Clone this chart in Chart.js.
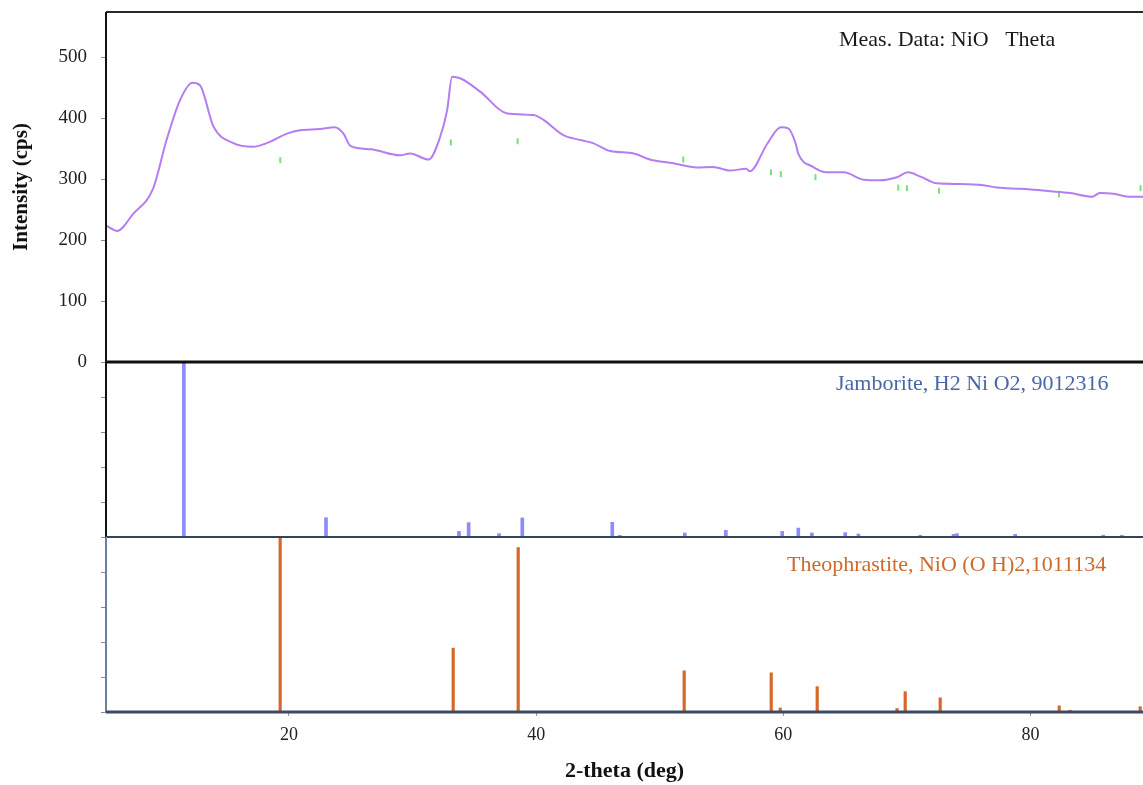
<!DOCTYPE html>
<html lang="en">
<head>
<meta charset="UTF-8">
<title>XRD - NiO</title>
<script src="https://cdn.jsdelivr.net/npm/chart.js@4.4.0/dist/chart.umd.min.js"></script>
<style>
  html, body { margin: 0; padding: 0; background: #fff; overflow: hidden; }
  canvas { display: block; }
</style>
</head>
<body>
<canvas id="xrd" width="1143" height="785"></canvas>
<script>
// measured pattern, 2-theta (deg) / intensity (cps)
const measTheta = [5.2, 6.1, 7.4, 9.0, 10.1, 11.2, 12.2, 12.8, 13.9, 15.5, 17.1, 18.2, 19.9, 20.9, 22.5, 23.7, 24.4, 25.0, 26.6, 29.0,
  29.8, 31.3, 32.2, 32.8, 33.2, 33.9, 35.5, 37.6, 39.8, 40.6, 42.2, 43.6, 44.6, 46.0, 47.9, 49.2, 51.1, 53.0, 54.3, 55.7,
  57.0, 57.3, 58.7, 59.8, 60.4, 61.0, 61.2, 62.4, 63.5, 64.9, 66.5, 67.8, 69.2, 70.1, 71.1, 72.4, 74.3, 76.2, 77.3, 79.2,
  81.6, 83.2, 85.0, 85.6, 86.7, 88.1, 89.1];
const measCps = [224, 215, 243, 284, 364, 430, 458, 454, 386, 359, 353, 359, 375, 380, 382, 385, 375, 354, 349, 339,
  342, 332, 367, 413, 468, 465, 443, 408, 405, 397, 372, 364, 359, 346, 342, 332, 326, 319, 320, 314,
  317, 313, 358, 385, 383, 358, 342, 320, 311, 311, 299, 298, 303, 311, 304, 293, 292, 290, 286, 284,
  280, 277, 271, 277, 276, 271, 271];

// peak marks on the measured curve
const peakTheta = [19.3, 33.1, 38.5, 51.9, 59.0, 59.8, 62.6, 69.3, 70.0, 72.6, 82.3, 88.9];
const peakCps = [331, 360, 362, 332, 311, 308, 303, 286, 285, 281, 275, 285];

// Jamborite reference lines (relative intensity %)
const jamTheta = [11.5, 23.0, 33.76, 34.54, 37.0, 38.88, 46.16, 46.77, 52.03, 55.35, 59.91, 61.21, 62.31, 65.01, 66.08, 71.08, 73.77, 74.05, 78.76, 85.88, 87.39];
const jamInt = [100, 11, 3.2, 8.2, 1.9, 10.9, 8.4, 1, 2.3, 3.8, 3.2, 5.1, 2.3, 2.5, 1.7, 1, 1.5, 1.9, 1.5, 1, 1];

// Theophrastite reference lines (relative intensity %)
const theoTheta = [19.29, 33.29, 38.55, 51.98, 59.02, 59.75, 62.74, 69.2, 69.86, 72.69, 82.32, 83.2, 88.87];
const theoInt = [100, 36.5, 94, 23.5, 22.4, 2.3, 14.5, 2, 11.6, 8.1, 3.5, 1, 3];

const xTicks = [20, 40, 60, 80];
const yTicks = [0, 100, 200, 300, 400, 500];
const panelLabels = ['Meas. Data: NiO   Theta', 'Jamborite, H2 Ni O2, 9012316', 'Theophrastite, NiO (O H)2,1011134'];

const serif = "'Liberation Serif', 'Times New Roman', serif";

function pairs(xs, ys) {
  return xs.map((x, i) => ({ x: x, y: ys[i] }));
}

// no extra room for the end labels, the frame sits right at the edges
function noPad(s) {
  s.paddingTop = 0;
  s.paddingBottom = 0;
  s.paddingLeft = 0;
  s.paddingRight = 0;
}

// frames around the three panels and the phase names
const panelFrames = {
  id: 'panelFrames',
  afterDatasetsDraw(chart) {
    const ctx = chart.ctx;
    const a = chart.chartArea;
    const yt = chart.scales.y, ym = chart.scales.yJam, yb = chart.scales.yTheo;
    function seg(x1, y1, x2, y2, color, w) {
      ctx.beginPath();
      ctx.strokeStyle = color;
      ctx.lineWidth = w;
      ctx.moveTo(x1, y1);
      ctx.lineTo(x2, y2);
      ctx.stroke();
    }
    ctx.save();
    seg(a.left, yt.top, a.right, yt.top, '#2a2a2a', 2);
    seg(a.left, yt.top, a.left, ym.bottom, '#111', 2);
    seg(a.left, yt.bottom, a.right, yt.bottom, '#111', 3);
    seg(a.left, ym.bottom, a.right, ym.bottom, '#33445f', 2);
    seg(a.left, yb.top, a.left, yb.bottom, '#6d7fa0', 2);
    seg(a.left, yb.bottom, a.right, yb.bottom, '#3b4a66', 3);

    ctx.font = '22px ' + serif;
    ctx.textBaseline = 'middle';
    ctx.textAlign = 'left';
    ctx.fillStyle = '#1a1a1a';
    ctx.fillText(panelLabels[0], 839, yt.top + 28);
    ctx.fillStyle = '#4867a8';
    ctx.fillText(panelLabels[1], 836, ym.top + 22);
    ctx.fillStyle = '#cd6a2c';
    ctx.fillText(panelLabels[2], 787, yb.top + 28);
    ctx.restore();
  }
};

const stickAxis = (weight) => ({
  type: 'linear',
  position: 'left',
  stack: 'panels',
  stackWeight: 1,
  weight: weight,
  stacked: false,
  min: 0,
  max: 100,
  afterBuildTicks: s => { s.ticks = [0, 20, 40, 60, 80, 100].map(v => ({ value: v })); },
  afterFit: s => { s.width = 106; noPad(s); },
  grid: { drawOnChartArea: false, tickLength: 5, color: '#8a8a8a' },
  border: { display: false },
  ticks: { display: false }
});

new Chart('xrd', {
  type: 'line',
  data: {
    datasets: [
      {
        label: 'Meas. Data: NiO',
        data: pairs(measTheta, measCps),
        yAxisID: 'y',
        borderColor: 'rgb(180,125,240)',
        borderWidth: 2,
        pointRadius: 0,
        cubicInterpolationMode: 'monotone',
        fill: false
      },
      {
        label: 'peaks',
        data: pairs(peakTheta, peakCps),
        yAxisID: 'y',
        showLine: false,
        pointStyle: 'line',
        rotation: 90,
        pointRadius: 3,
        borderWidth: 2,
        borderColor: 'rgb(120,225,120)'
      },
      {
        type: 'bar',
        label: 'Jamborite',
        data: pairs(jamTheta, jamInt),
        yAxisID: 'yJam',
        stack: 'sticks',
        backgroundColor: 'rgb(140,140,250)',
        borderWidth: 0,
        barThickness: 3
      },
      {
        type: 'bar',
        label: 'Theophrastite',
        data: pairs(theoTheta, theoInt),
        yAxisID: 'yTheo',
        stack: 'sticks',
        backgroundColor: 'rgb(212,104,40)',
        borderWidth: 0,
        barThickness: 2.5
      }
    ]
  },
  options: {
    responsive: false,
    animation: false,
    layout: { autoPadding: false, padding: { top: 12, left: 0, right: 0, bottom: 0 } },
    plugins: {
      legend: { display: false },
      tooltip: { enabled: false }
    },
    scales: {
      x: {
        type: 'linear',
        position: 'bottom',
        min: 5.2,
        max: 89.1,
        offset: false,
        afterBuildTicks: s => { s.ticks = xTicks.map(v => ({ value: v })); },
        afterFit: s => { s.height = 73; noPad(s); },
        grid: { drawOnChartArea: false, offset: false, tickLength: 4, color: '#999' },
        border: { display: false },
        ticks: { font: { family: serif, size: 18 }, color: '#222', padding: 8, maxRotation: 0, callback: v => String(v) },
        title: { display: true, text: '2-theta (deg)', font: { family: serif, size: 22, weight: 'bold' }, color: '#111', padding: { top: 0, bottom: 0 } }
      },
      y: {
        type: 'linear',
        position: 'left',
        stack: 'panels',
        stackWeight: 2,
        weight: 3,
        min: 0,
        max: 574,
        afterBuildTicks: s => { s.ticks = yTicks.map(v => ({ value: v })); },
        afterFit: s => { s.width = 106; noPad(s); },
        grid: { drawOnChartArea: false, tickLength: 5, color: '#8a8a8a' },
        border: { display: false },
        ticks: { font: { family: serif, size: 19 }, color: '#222', padding: 14 },
        title: { display: true, text: 'Intensity (cps)', font: { family: serif, size: 21, weight: 'bold' }, color: '#111', padding: { top: 9, bottom: 0 } }
      },
      yJam: stickAxis(2),
      yTheo: stickAxis(1)
    }
  },
  plugins: [panelFrames]
});
</script>
</body>
</html>
